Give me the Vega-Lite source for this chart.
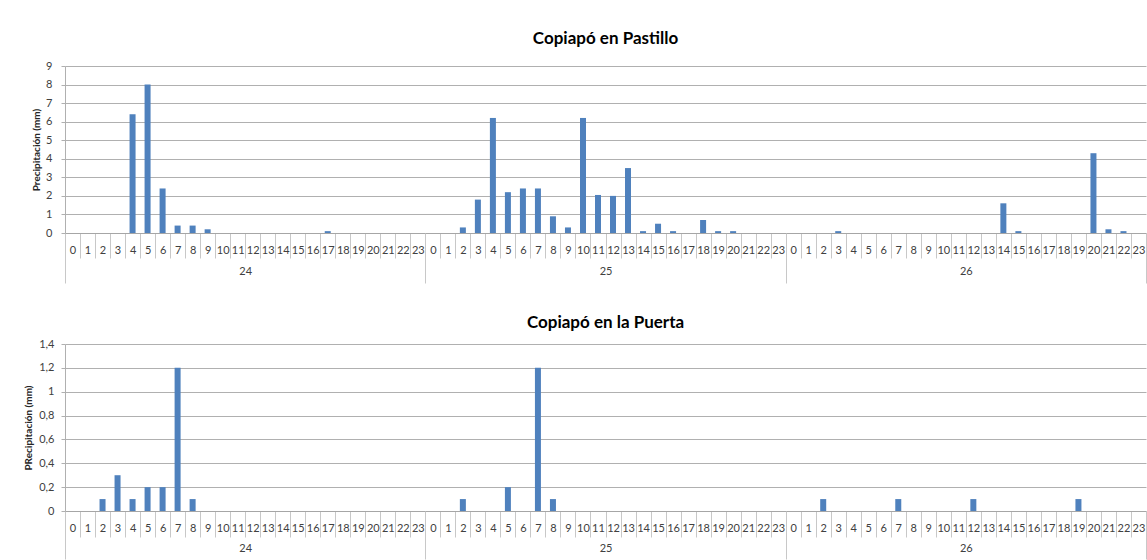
{
  "$schema": "https://vega.github.io/schema/vega-lite/v6.json",
  "padding": {"left": 23, "top": 30, "right": 0, "bottom": 0},
  "background": "white",
  "config": {
    "font": "Lato",
    "view": {"stroke": null},
    "axis": {"labelFont": "Lato", "titleFont": "Lato", "labelColor": "#404040", "titleColor": "#262626"},
    "title": {"font": "Lato", "fontSize": 17, "fontWeight": "bold", "color": "#000000"}
  },
  "spacing": 30,
  "columns": 1,
  "datasets": {
    "pastillo": [
      {"t":0,"d":"24","v":0},{"t":1,"d":"24","v":0},{"t":2,"d":"24","v":0},{"t":3,"d":"24","v":0},{"t":4,"d":"24","v":6.4},{"t":5,"d":"24","v":8},{"t":6,"d":"24","v":2.4},{"t":7,"d":"24","v":0.4},{"t":8,"d":"24","v":0.4},{"t":9,"d":"24","v":0.2},{"t":10,"d":"24","v":0},{"t":11,"d":"24","v":0},{"t":12,"d":"24","v":0},{"t":13,"d":"24","v":0},{"t":14,"d":"24","v":0},{"t":15,"d":"24","v":0},{"t":16,"d":"24","v":0},{"t":17,"d":"24","v":0.1},{"t":18,"d":"24","v":0},{"t":19,"d":"24","v":0},{"t":20,"d":"24","v":0},{"t":21,"d":"24","v":0},{"t":22,"d":"24","v":0},{"t":23,"d":"24","v":0},
      {"t":24,"d":"25","v":0},{"t":25,"d":"25","v":0},{"t":26,"d":"25","v":0.3},{"t":27,"d":"25","v":1.8},{"t":28,"d":"25","v":6.2},{"t":29,"d":"25","v":2.2},{"t":30,"d":"25","v":2.4},{"t":31,"d":"25","v":2.4},{"t":32,"d":"25","v":0.9},{"t":33,"d":"25","v":0.3},{"t":34,"d":"25","v":6.2},{"t":35,"d":"25","v":2.05},{"t":36,"d":"25","v":2.0},{"t":37,"d":"25","v":3.5},{"t":38,"d":"25","v":0.1},{"t":39,"d":"25","v":0.5},{"t":40,"d":"25","v":0.1},{"t":41,"d":"25","v":0},{"t":42,"d":"25","v":0.7},{"t":43,"d":"25","v":0.1},{"t":44,"d":"25","v":0.1},{"t":45,"d":"25","v":0},{"t":46,"d":"25","v":0},{"t":47,"d":"25","v":0},
      {"t":48,"d":"26","v":0},{"t":49,"d":"26","v":0},{"t":50,"d":"26","v":0},{"t":51,"d":"26","v":0.1},{"t":52,"d":"26","v":0},{"t":53,"d":"26","v":0},{"t":54,"d":"26","v":0},{"t":55,"d":"26","v":0},{"t":56,"d":"26","v":0},{"t":57,"d":"26","v":0},{"t":58,"d":"26","v":0},{"t":59,"d":"26","v":0},{"t":60,"d":"26","v":0},{"t":61,"d":"26","v":0},{"t":62,"d":"26","v":1.6},{"t":63,"d":"26","v":0.1},{"t":64,"d":"26","v":0},{"t":65,"d":"26","v":0},{"t":66,"d":"26","v":0},{"t":67,"d":"26","v":0},{"t":68,"d":"26","v":4.3},{"t":69,"d":"26","v":0.2},{"t":70,"d":"26","v":0.1},{"t":71,"d":"26","v":0}
    ],
    "puerta": [
      {"t":0,"d":"24","v":0},{"t":1,"d":"24","v":0},{"t":2,"d":"24","v":0.1},{"t":3,"d":"24","v":0.3},{"t":4,"d":"24","v":0.1},{"t":5,"d":"24","v":0.2},{"t":6,"d":"24","v":0.2},{"t":7,"d":"24","v":1.2},{"t":8,"d":"24","v":0.1},{"t":9,"d":"24","v":0},{"t":10,"d":"24","v":0},{"t":11,"d":"24","v":0},{"t":12,"d":"24","v":0},{"t":13,"d":"24","v":0},{"t":14,"d":"24","v":0},{"t":15,"d":"24","v":0},{"t":16,"d":"24","v":0},{"t":17,"d":"24","v":0},{"t":18,"d":"24","v":0},{"t":19,"d":"24","v":0},{"t":20,"d":"24","v":0},{"t":21,"d":"24","v":0},{"t":22,"d":"24","v":0},{"t":23,"d":"24","v":0},
      {"t":24,"d":"25","v":0},{"t":25,"d":"25","v":0},{"t":26,"d":"25","v":0.1},{"t":27,"d":"25","v":0},{"t":28,"d":"25","v":0},{"t":29,"d":"25","v":0.2},{"t":30,"d":"25","v":0},{"t":31,"d":"25","v":1.2},{"t":32,"d":"25","v":0.1},{"t":33,"d":"25","v":0},{"t":34,"d":"25","v":0},{"t":35,"d":"25","v":0},{"t":36,"d":"25","v":0},{"t":37,"d":"25","v":0},{"t":38,"d":"25","v":0},{"t":39,"d":"25","v":0},{"t":40,"d":"25","v":0},{"t":41,"d":"25","v":0},{"t":42,"d":"25","v":0},{"t":43,"d":"25","v":0},{"t":44,"d":"25","v":0},{"t":45,"d":"25","v":0},{"t":46,"d":"25","v":0},{"t":47,"d":"25","v":0},
      {"t":48,"d":"26","v":0},{"t":49,"d":"26","v":0},{"t":50,"d":"26","v":0.1},{"t":51,"d":"26","v":0},{"t":52,"d":"26","v":0},{"t":53,"d":"26","v":0},{"t":54,"d":"26","v":0},{"t":55,"d":"26","v":0.1},{"t":56,"d":"26","v":0},{"t":57,"d":"26","v":0},{"t":58,"d":"26","v":0},{"t":59,"d":"26","v":0},{"t":60,"d":"26","v":0.1},{"t":61,"d":"26","v":0},{"t":62,"d":"26","v":0},{"t":63,"d":"26","v":0},{"t":64,"d":"26","v":0},{"t":65,"d":"26","v":0},{"t":66,"d":"26","v":0},{"t":67,"d":"26","v":0.1},{"t":68,"d":"26","v":0},{"t":69,"d":"26","v":0},{"t":70,"d":"26","v":0},{"t":71,"d":"26","v":0}
    ]
  },
  "concat": [
    {
      "title": {"text": "Copiapó en Pastillo", "anchor": "middle", "offset": 12},
      "data": {"name": "pastillo"},
      "width": 1081,
      "height": 167,
      "layer": [
        {
          "mark": {"type": "bar", "color": "#4F81BD", "width": {"band": 0.4}},
          "encoding": {
            "x": {"field": "t", "type": "ordinal", "scale": {"paddingInner": 0, "paddingOuter": 0},
              "axis": {"title": null, "labelExpr": "isNumber(datum.value) ? datum.value % 24 : ''", "labelAngle": 0, "tickBand": "extent", "tickSize": 25, "tickColor": "#C8C8C8", "domainColor": "#A6A6A6", "labelPadding": -14, "labelFontSize": 11, "labelOverlap": false, "labelBound": false, "grid": false}},
            "y": {"field": "v", "type": "quantitative", "scale": {"domain": [0, 9]},
              "axis": {"title": "Precipitación (mm)", "values": [0,1,2,3,4,5,6,7,8,9], "grid": true, "gridColor": "#B0B0B0", "tickSize": 4, "tickColor": "#B0B0B0", "domainColor": "#B0B0B0", "labelPadding": 9, "labelFontSize": 11, "titleFontSize": 10, "titleFontWeight": "bold", "titlePadding": 4}}
          }
        },
        {
          "mark": {"type": "point", "opacity": 0},
          "encoding": {
            "x": {"field": "d", "type": "ordinal", "scale": {"paddingInner": 0, "paddingOuter": 0},
              "axis": {"orient": "bottom", "title": null, "labelAngle": 0, "domain": false, "tickBand": "extent", "tickSize": 50, "tickColor": "#C8C8C8", "labelPadding": -18, "labelFontSize": 11, "grid": false}}
          }
        }
      ],
      "resolve": {"scale": {"x": "independent"}, "axis": {"x": "independent"}}
    },
    {
      "title": {"text": "Copiapó en la Puerta", "anchor": "middle", "offset": 6},
      "data": {"name": "puerta"},
      "width": 1081,
      "height": 167,
      "layer": [
        {
          "mark": {"type": "bar", "color": "#4F81BD", "width": {"band": 0.4}},
          "encoding": {
            "x": {"field": "t", "type": "ordinal", "scale": {"paddingInner": 0, "paddingOuter": 0},
              "axis": {"title": null, "labelExpr": "isNumber(datum.value) ? datum.value % 24 : ''", "labelAngle": 0, "tickBand": "extent", "tickSize": 26, "tickColor": "#C8C8C8", "domainColor": "#A6A6A6", "labelPadding": -15, "labelFontSize": 11, "labelOverlap": false, "labelBound": false, "grid": false}},
            "y": {"field": "v", "type": "quantitative", "scale": {"domain": [0, 1.4]},
              "axis": {"title": "PRecipitación (mm)", "values": [0,0.2,0.4,0.6,0.8,1,1.2,1.4], "labelExpr": "replace(format(datum.value, '~g'), '.', ',')", "grid": true, "gridColor": "#B0B0B0", "tickSize": 4, "tickColor": "#B0B0B0", "domainColor": "#B0B0B0", "labelPadding": 7, "labelFontSize": 11, "titleFontSize": 10, "titleFontWeight": "bold", "titlePadding": 5}}
          }
        },
        {
          "mark": {"type": "point", "opacity": 0},
          "encoding": {
            "x": {"field": "d", "type": "ordinal", "scale": {"paddingInner": 0, "paddingOuter": 0},
              "axis": {"orient": "bottom", "title": null, "labelAngle": 0, "domain": false, "tickBand": "extent", "tickSize": 48, "tickColor": "#C8C8C8", "labelPadding": -17, "labelFontSize": 11, "grid": false}}
          }
        }
      ],
      "resolve": {"scale": {"x": "independent"}, "axis": {"x": "independent"}}
    }
  ]
}
